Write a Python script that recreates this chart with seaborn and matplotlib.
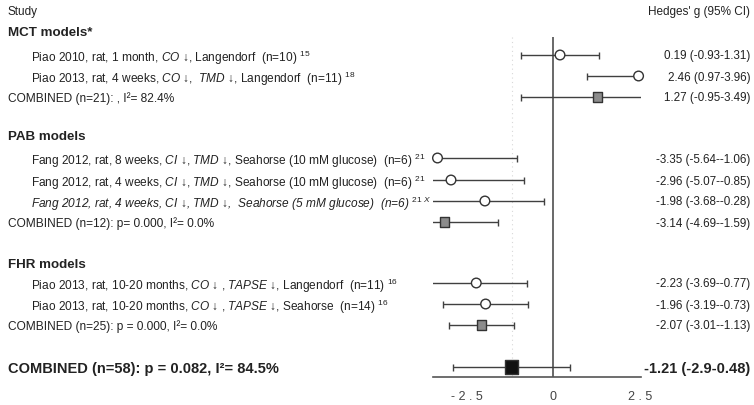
import matplotlib
matplotlib.use("Agg")
import matplotlib.pyplot as plt
import matplotlib.transforms as mtransforms
import seaborn as sns
import pandas as pd

# ---------------- data ----------------
labels = [
    r"Piao 2010, rat, 1 month, $\mathit{CO}$ ↓, Langendorf  (n=10) $^{15}$",
    r"Piao 2013, rat, 4 weeks, $\mathit{CO}$ ↓,  $\mathit{TMD}$ ↓, Langendorf  (n=11) $^{18}$",
    "COMBINED (n=21): , I²= 82.4%",
    r"Fang 2012, rat, 8 weeks, $\mathit{CI}$ ↓, $\mathit{TMD}$ ↓, Seahorse (10 mM glucose)  (n=6) $^{21}$",
    r"Fang 2012, rat, 4 weeks, $\mathit{CI}$ ↓, $\mathit{TMD}$ ↓, Seahorse (10 mM glucose)  (n=6) $^{21}$",
    r"Fang 2012, rat, 4 weeks, $\mathit{CI}$ ↓, $\mathit{TMD}$ ↓,  Seahorse (5 mM glucose)  (n=6) $^{21\ \mathit{X}}$",
    "COMBINED (n=12): p= 0.000, I²= 0.0%",
    r"Piao 2013, rat, 10-20 months, $\mathit{CO}$ ↓ , $\mathit{TAPSE}$ ↓, Langendorf  (n=11) $^{16}$",
    r"Piao 2013, rat, 10-20 months, $\mathit{CO}$ ↓ , $\mathit{TAPSE}$ ↓, Seahorse  (n=14) $^{16}$",
    "COMBINED (n=25): p = 0.000, I²= 0.0%",
    "COMBINED (n=58): p = 0.082, I²= 84.5%",
]
g = [0.19, 2.46, 1.27, -3.35, -2.96, -1.98, -3.14, -2.23, -1.96, -2.07, -1.21]
lo = [-0.93, 0.97, -0.95, -5.64, -5.07, -3.68, -4.69, -3.69, -3.19, -3.01, -2.9]
hi = [1.31, 3.96, 3.49, -1.06, -0.85, -0.28, -1.59, -0.77, -0.73, -1.13, 0.48]
kind = ["study", "study", "sub", "study", "study", "study", "sub",
        "study", "study", "sub", "overall"]
value_labels = [
    "0.19 (-0.93-1.31)", "2.46 (0.97-3.96)", "1.27 (-0.95-3.49)",
    "-3.35 (-5.64--1.06)", "-2.96 (-5.07--0.85)", "-1.98 (-3.68--0.28)",
    "-3.14 (-4.69--1.59)", "-2.23 (-3.69--0.77)", "-1.96 (-3.19--0.73)",
    "-2.07 (-3.01--1.13)", "-1.21 (-2.9-0.48)",
]
groups = ["MCT models*", "PAB models", "FHR models"]
xticks = [-2.5, 0, 2.5]
xtick_labels = ["- 2 . 5", "0", "2 . 5"]

# ---------------- layout (row positions in pixel rows) ----------------
row_y = [55, 76, 97, 158, 180, 201, 222, 283, 304, 325, 367]
group_y = [33, 137, 265]
header_y = 12
axis_y = 377
W, H = 754, 405

df = pd.DataFrame({"label": labels, "g": g, "lo": lo, "hi": hi,
                   "kind": kind, "y": row_y})

sns.set_theme(style="white")
plt.rcParams["font.family"] = ["Liberation Sans", "DejaVu Sans"]
plt.rcParams["mathtext.fontset"] = "custom"
plt.rcParams["mathtext.rm"] = "Liberation Sans"
plt.rcParams["mathtext.it"] = "Liberation Sans:italic"
plt.rcParams["mathtext.bf"] = "Liberation Sans:bold"

TXT = "#222222"
LN = "#404040"

fig = plt.figure(figsize=(W / 100, H / 100), dpi=100)
ax = fig.add_axes([433 / W, (H - axis_y) / H, 208 / W, axis_y / H])
ax.set_xlim(-3.48, 2.53)
ax.set_ylim(axis_y, 0)

# reference lines
ax.vlines(0, 37, axis_y, color=LN, lw=1.1, zorder=1)
ax.vlines(g[-1], 37, axis_y, color="#d8d8d8", lw=0.8, ls=(0, (1, 3)), zorder=0)

# CIs with caps
cap = 3.5
for _, r in df.iterrows():
    ax.hlines(r["y"], r["lo"], r["hi"], color=LN, lw=1.0, zorder=2)
    ax.vlines([r["lo"], r["hi"]], r["y"] - cap, r["y"] + cap, color=LN, lw=1.0, zorder=2)

sns.scatterplot(
    data=df, x="g", y="y", hue="kind", style="kind", size="kind",
    palette={"study": "white", "sub": "#8c8c8c", "overall": "#111111"},
    markers={"study": "o", "sub": "s", "overall": "s"},
    sizes={"study": 48, "sub": 44, "overall": 88},
    edgecolor="#333333", linewidth=1.0, legend=False, zorder=3, ax=ax,
    clip_on=False,
)

# axes styling
for s in ["top", "left", "right"]:
    ax.spines[s].set_visible(False)
ax.spines["bottom"].set_color("#555555")
ax.spines["bottom"].set_linewidth(1.2)
ax.set_yticks([])
ax.set_xticks(xticks)
ax.set_xticklabels(xtick_labels, fontsize=9, color="#444444")
ax.tick_params(axis="x", length=0, pad=10)
ax.set_xlabel("")
ax.set_ylabel("")

# text columns
tr = mtransforms.blended_transform_factory(fig.transFigure, ax.transData)
ax.text(8 / W, header_y, "Study", transform=tr, fontsize=8.5, color=TXT, va="center")
ax.text(750 / W, header_y, "Hedges' g (95% CI)", transform=tr, fontsize=8.5,
        color=TXT, va="center", ha="right")
for gy, gname in zip(group_y, groups):
    ax.text(8 / W, gy, gname, transform=tr, fontsize=9.6, fontweight="bold",
            color=TXT, va="center")

for _, r in df.iterrows():
    k = r["kind"]
    x0 = 31 / W if k == "study" else 8 / W
    style = "italic" if "5 mM" in r["label"] else "normal"
    if k == "overall":
        fs, fw = 10.5, "bold"
    else:
        fs, fw = 8.6, "normal"
    ax.text(x0, r["y"], r["label"], transform=tr, fontsize=fs, fontweight=fw,
            fontstyle=style, color=TXT, va="center_baseline")
for yv, vl, k in zip(row_y, value_labels, kind):
    fs, fw = (10.5, "bold") if k == "overall" else (8.4, "normal")
    ax.text(750 / W, yv, vl, transform=tr, fontsize=fs, fontweight=fw,
            color=TXT, va="center_baseline", ha="right")

fig.savefig("out.png", dpi=100)
